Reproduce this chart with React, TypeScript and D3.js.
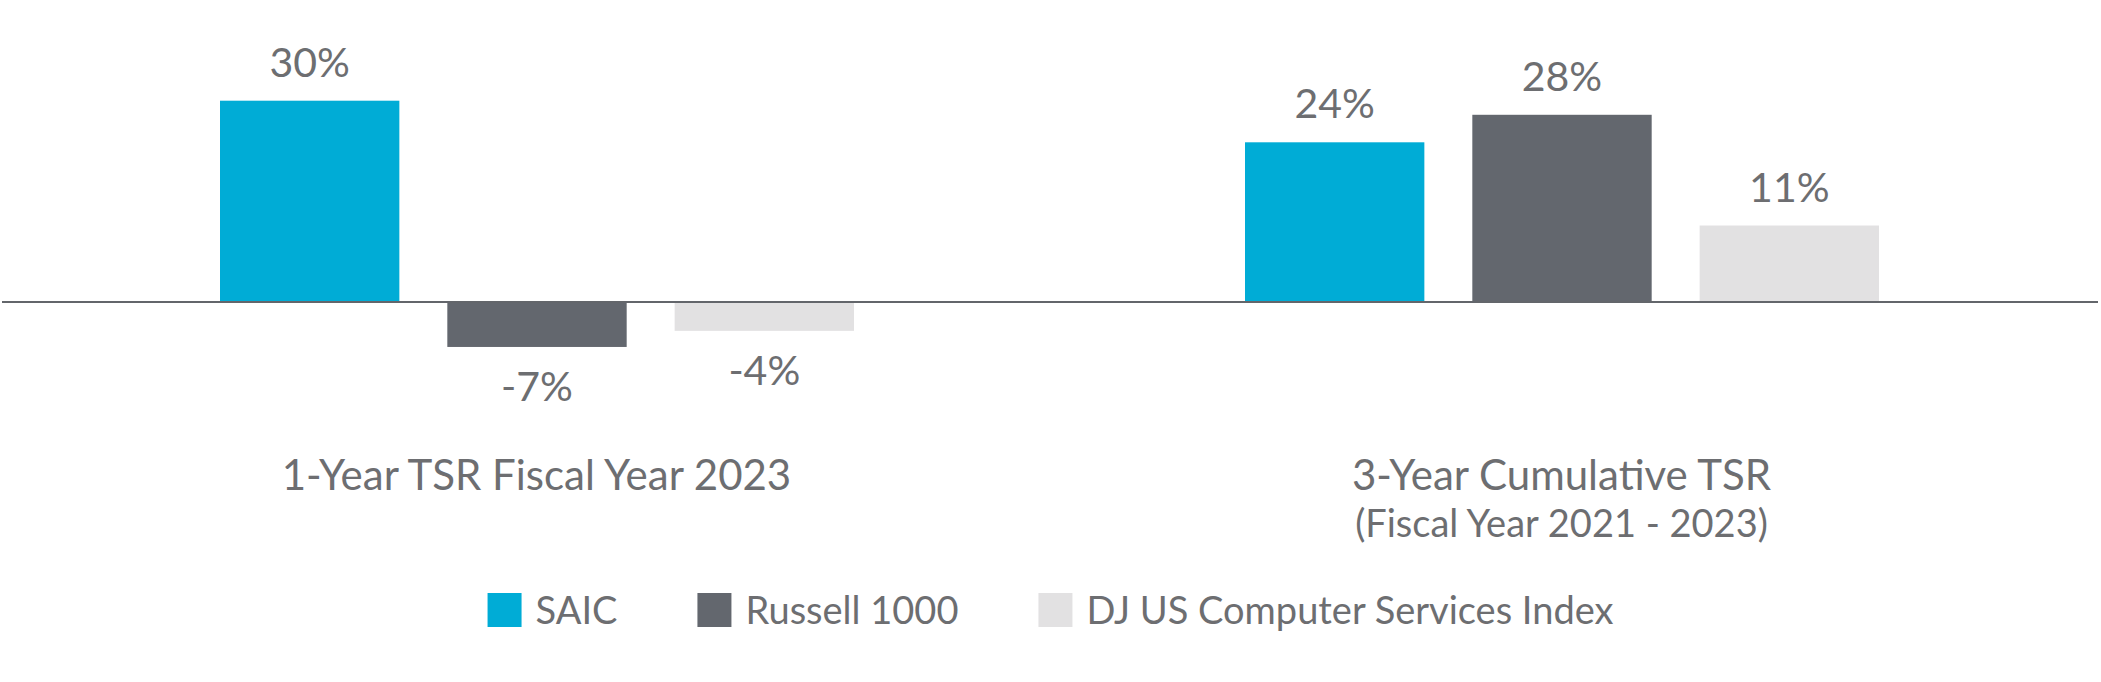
import React, { useEffect, useRef } from "react";
import * as d3 from "d3";

const groups = ["1-Year TSR Fiscal Year 2023", "3-Year Cumulative TSR"];
const groupSubtitles = ["", "(Fiscal Year 2021 - 2023)"];
const seriesNames = ["SAIC", "Russell 1000", "DJ US Computer Services Index"];
const seriesColors = ["#00acd6", "#63676e", "#e2e1e2"];
const oneYearValues = [30, -6.7, -4.3];
const threeYearValues = [23.8, 27.9, 11.4];
const oneYearLabels = ["30%", "-7%", "-4%"];
const threeYearLabels = ["24%", "28%", "11%"];

const W = 2101;
const H = 682;
const TEXT = "#6d6e71";
const FONT = "Lato, 'Open Sans', sans-serif";

export default function App() {
  const legendRef = useRef<SVGGElement>(null);

  const x0 = d3.scaleBand<string>().domain(groups).range([24, 2074]).padding(0);
  const x1 = d3
    .scaleBand<string>()
    .domain(seriesNames)
    .range([196, 830])
    .paddingInner(0.211)
    .paddingOuter(0);
  const y = d3.scaleLinear().domain([0, 30]).range([302, 100.7]);

  const valuesByGroup = [oneYearValues, threeYearValues];
  const labelsByGroup = [oneYearLabels, threeYearLabels];

  useEffect(() => {
    const g = d3.select(legendRef.current);
    g.selectAll("*").remove();
    const sq = 34;
    const gapText = 14;
    const gapItem = 80;
    const items = g
      .selectAll("g.item")
      .data(seriesNames)
      .join("g")
      .attr("class", "item");
    items
      .append("rect")
      .attr("width", sq)
      .attr("height", sq)
      .attr("y", 593)
      .attr("fill", (_d, i) => seriesColors[i]);
    items
      .append("text")
      .attr("x", sq + gapText)
      .attr("y", 624)
      .attr("fill", TEXT)
      .attr("font-family", FONT)
      .attr("font-size", 38)
      .text((d) => d);
    const widths: number[] = [];
    items.each(function () {
      const t = (this as SVGGElement).querySelector("text") as SVGTextElement;
      widths.push(sq + gapText + t.getComputedTextLength());
    });
    const total = d3.sum(widths) + gapItem * (widths.length - 1);
    let cx = W / 2 - total / 2;
    items.attr("transform", (_d, i) => {
      const t = `translate(${cx},0)`;
      cx += widths[i] + gapItem;
      return t;
    });
  }, []);

  return (
    <div style={{ position: "absolute", left: 0, top: 0 }}>
      <svg width={W} height={H} style={{ display: "block", background: "#fff" }}>
        {groups.map((grp, gi) => {
          const gx = x0(grp)!;
          const cx = x0.bandwidth() / 2;
          return (
            <g key={grp} transform={`translate(${gx},0)`}>
              {seriesNames.map((s, si) => {
                const v = valuesByGroup[gi][si];
                const bx = x1(s)!;
                const bw = x1.bandwidth();
                const top = y(Math.max(0, v));
                const bottom = y(Math.min(0, v));
                const ly = v >= 0 ? top - 24 : bottom + 54;
                return (
                  <g key={s}>
                    <rect x={bx} y={top} width={bw} height={bottom - top} fill={seriesColors[si]} />
                    <text
                      x={bx + bw / 2}
                      y={ly}
                      textAnchor="middle"
                      fill={TEXT}
                      fontFamily={FONT}
                      fontSize={41}
                    >
                      {labelsByGroup[gi][si]}
                    </text>
                  </g>
                );
              })}
              <text
                x={cx}
                y={490}
                textAnchor="middle"
                fill={TEXT}
                fontFamily={FONT}
                fontSize={42}
              >
                {grp}
              </text>
              {groupSubtitles[gi] && (
                <text
                  x={cx}
                  y={537}
                  textAnchor="middle"
                  fill={TEXT}
                  fontFamily={FONT}
                  fontSize={38}
                >
                  {groupSubtitles[gi]}
                </text>
              )}
            </g>
          );
        })}
        <line x1={2} x2={2098} y1={y(0)} y2={y(0)} stroke="#63666b" strokeWidth={2} />
        <g ref={legendRef} />
      </svg>
    </div>
  );
}
